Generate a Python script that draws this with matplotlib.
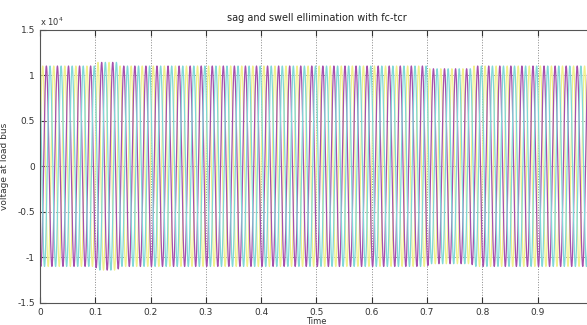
"""
sag and swell elimination with fc-tcr — three-phase load bus voltage.
"""

import numpy as np
import matplotlib
matplotlib.use("Agg")
import matplotlib.pyplot as plt

# 读图得到的参数
freq_hz = 50.0
phase_deg = [0.0, -120.0, 120.0]
phase_colors = ["#f0f08a", "#a650ac", "#80d8d8"]

# 包络: 分段时间 (s) 与峰值 (V)
env_t = [0.0, 0.10, 0.105, 0.14, 0.145, 0.70, 0.705, 0.78, 0.785, 1.0]
env_amp = [1.10e4, 1.10e4, 1.14e4, 1.14e4, 1.10e4, 1.10e4, 1.07e4, 1.07e4, 1.10e4, 1.10e4]

xticks = [0, 0.1, 0.2, 0.3, 0.4, 0.5, 0.6, 0.7, 0.8, 0.9]
xtick_labels = ["0", "0.1", "0.2", "0.3", "0.4", "0.5", "0.6", "0.7", "0.8", "0.9"]
yticks = [-1.5e4, -1.0e4, -0.5e4, 0, 0.5e4, 1.0e4, 1.5e4]
ytick_labels = ["-1.5", "-1", "-0.5", "0", "0.5", "1", "1.5"]


def main():
    t = np.linspace(0.0, 1.0, 20001)
    amp = np.interp(t, env_t, env_amp)

    fig = plt.figure(figsize=(5.87, 3.25), dpi=100)
    ax = fig.add_axes([0.068, 0.068, 0.942, 0.841])

    for ph, col in zip(phase_deg, phase_colors):
        v = amp * np.sin(2 * np.pi * freq_hz * t + np.deg2rad(ph))
        ax.plot(t, v, color=col, linewidth=0.9)

    ax.set_xlim(0, 1.0)
    ax.set_ylim(-1.5e4, 1.5e4)
    ax.set_xticks(xticks)
    ax.set_yticks(yticks)
    ax.set_xticklabels(xtick_labels)
    ax.set_yticklabels(ytick_labels)
    ax.grid(True, linestyle=":", color="#888888", linewidth=0.7)
    ax.tick_params(direction="in", length=4, labelsize=6.5, colors="#333333",
                   top=True, right=True)
    for s in ax.spines.values():
        s.set_color("#555555")
        s.set_linewidth(0.8)

    ax.text(0.0, 1.005, r"x 10$^4$", transform=ax.transAxes, fontsize=6,
            color="#333333", ha="left", va="bottom")
    ax.set_title("sag and swell ellimination with fc-tcr", fontsize=7, pad=6,
                 color="#222222")
    ax.set_xlabel("Time", fontsize=6, labelpad=0, color="#333333")
    ax.set_ylabel("voltage at load bus", fontsize=6.5, labelpad=6, color="#333333")

    fig.savefig("out.png", dpi=100)
    plt.close(fig)


if __name__ == "__main__":
    main()
